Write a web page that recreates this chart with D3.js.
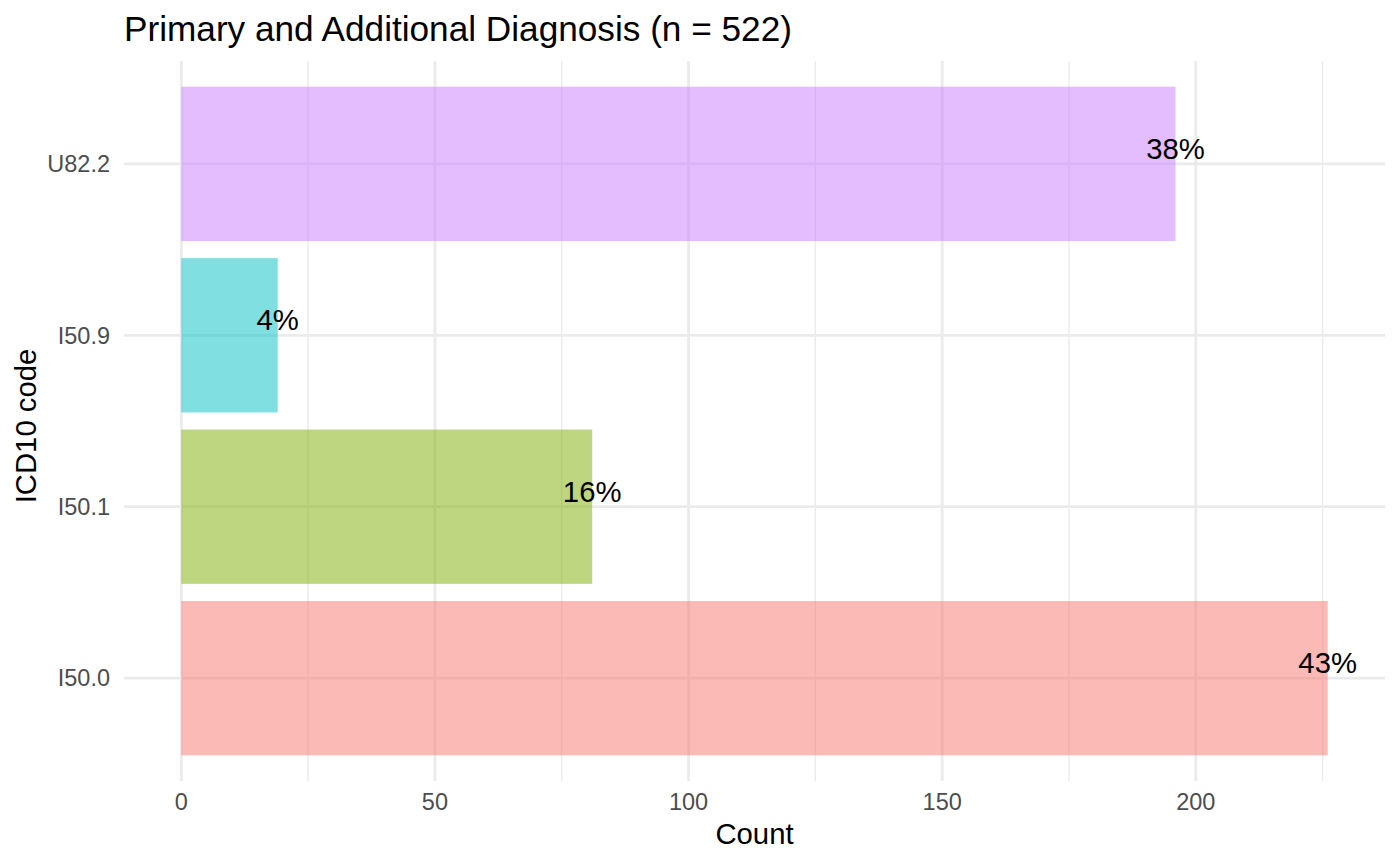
<!DOCTYPE html>
<html>
<head>
<meta charset="utf-8">
<script src="https://cdn.jsdelivr.net/npm/d3@7"></script>
<style>
  html, body { margin: 0; padding: 0; background: #ffffff; }
  svg { display: block; font-family: "Liberation Sans", Arial, sans-serif; }
</style>
</head>
<body>
<svg id="chart" width="1400" height="865"></svg>
<script>
// ---- data ----
const categories = ["I50.0", "I50.1", "I50.9", "U82.2"];
const counts = [226, 81, 19, 196];
const percentLabels = ["43%", "16%", "4%", "38%"];
const colors = ["#F8766D", "#7CAE00", "#00BFC4", "#C77CFF"];
const majorTicks = [0, 50, 100, 150, 200];
const minorTicks = [25, 75, 125, 175, 225];
const titleText = "Primary and Additional Diagnosis (n = 522)";
const xTitle = "Count";
const yTitle = "ICD10 code";

const data = categories.map((c, i) => ({ cat: c, n: counts[i], label: percentLabels[i], color: colors[i] }));

// ---- layout ----
const panel = { left: 124, right: 1385, top: 61, bottom: 781 };
const svg = d3.select("#chart");

const maxVal = d3.max(counts);
const pad = maxVal * 0.05;
const x = d3.scaleLinear().domain([-pad, maxVal + pad]).range([panel.left, panel.right]);

// top to bottom: reverse factor order (ggplot puts first level at bottom)
const y = d3.scaleBand()
  .domain(categories.slice().reverse())
  .range([panel.top, panel.bottom])
  .paddingInner(0.1)
  .paddingOuter(0.15);

const gridColor = "#EBEBEB";

// minor vertical grid
svg.append("g").selectAll("line").data(minorTicks).join("line")
  .attr("x1", d => x(d)).attr("x2", d => x(d))
  .attr("y1", panel.top).attr("y2", panel.bottom)
  .attr("stroke", gridColor).attr("stroke-width", 1.4);

// major vertical grid
svg.append("g").selectAll("line").data(majorTicks).join("line")
  .attr("x1", d => x(d)).attr("x2", d => x(d))
  .attr("y1", panel.top).attr("y2", panel.bottom)
  .attr("stroke", gridColor).attr("stroke-width", 2.8);

// horizontal grid at categories
svg.append("g").selectAll("line").data(categories).join("line")
  .attr("x1", panel.left).attr("x2", panel.right)
  .attr("y1", d => y(d) + y.bandwidth() / 2).attr("y2", d => y(d) + y.bandwidth() / 2)
  .attr("stroke", gridColor).attr("stroke-width", 2.8);

// bars
svg.append("g").selectAll("rect").data(data).join("rect")
  .attr("x", x(0))
  .attr("y", d => y(d.cat))
  .attr("width", d => x(d.n) - x(0))
  .attr("height", y.bandwidth())
  .attr("fill", d => d.color)
  .attr("fill-opacity", 0.5);

// value labels
svg.append("g").selectAll("text").data(data).join("text")
  .attr("x", d => x(d.n))
  .attr("y", d => y(d.cat) + y.bandwidth() / 2 - 5)
  .attr("text-anchor", "middle")
  .attr("font-size", 29.3)
  .attr("fill", "#000000")
  .text(d => d.label);

// y tick labels
svg.append("g").selectAll("text").data(categories).join("text")
  .attr("x", 110)
  .attr("y", d => y(d) + y.bandwidth() / 2)
  .attr("dy", "0.35em")
  .attr("text-anchor", "end")
  .attr("font-size", 23.5)
  .attr("fill", "#4D4D4D")
  .text(d => d);

// x tick labels
svg.append("g").selectAll("text").data(majorTicks).join("text")
  .attr("x", d => x(d))
  .attr("y", 810)
  .attr("text-anchor", "middle")
  .attr("font-size", 23.5)
  .attr("fill", "#4D4D4D")
  .text(d => d3.format("d")(d));

// axis titles
svg.append("text")
  .attr("x", (panel.left + panel.right) / 2)
  .attr("y", 844)
  .attr("text-anchor", "middle")
  .attr("font-size", 29.3)
  .attr("fill", "#000000")
  .text(xTitle);

svg.append("text")
  .attr("transform", `translate(36, 426) rotate(-90)`)
  .attr("text-anchor", "middle")
  .attr("font-size", 29.3)
  .attr("fill", "#000000")
  .text(yTitle);

// title
svg.append("text")
  .attr("x", panel.left)
  .attr("y", 41)
  .attr("font-size", 35.2)
  .attr("fill", "#000000")
  .text(titleText);
</script>
</body>
</html>
